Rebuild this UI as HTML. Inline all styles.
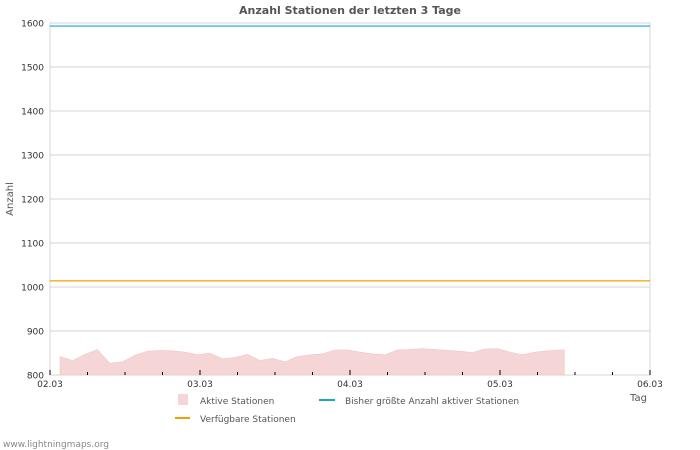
<!DOCTYPE html>
<html><head><meta charset="utf-8"><style>
body{margin:0;background:#fff;}
svg{display:block;font-family:"DejaVu Sans","Liberation Sans",sans-serif;}
</style></head><body>
<svg id="c" width="700" height="450">
<rect width="700" height="450" fill="#fff"/>
<text x="350" y="14" text-anchor="middle" font-size="11" font-weight="bold" fill="#555">Anzahl Stationen der letzten 3 Tage</text>
<g id="grid"></g>
<g id="series"></g>
<g id="axes"></g>
<text transform="translate(13,199) rotate(-90)" text-anchor="middle" font-size="10" fill="#555">Anzahl</text>
<text x="630" y="401" font-size="10" fill="#555">Tag</text>
<g>
<rect x="178" y="394" width="10" height="11" fill="#f5d5d5"/>
<text x="200" y="404" font-size="9" fill="#555">Aktive Stationen</text>
<line x1="319" y1="400" x2="335" y2="400" stroke="#1aa3d0" stroke-width="2"/>
<text x="345" y="404" font-size="9" fill="#555">Bisher größte Anzahl aktiver Stationen</text>
<line x1="175" y1="418" x2="190" y2="418" stroke="#f0a000" stroke-width="2"/>
<text x="200" y="422" font-size="9" fill="#555">Verfügbare Stationen</text>
</g>
<text x="3" y="447" font-size="9" fill="#888">www.lightningmaps.org</text>
</svg>
<script>
const yTicks=[800,900,1000,1100,1200,1300,1400,1500,1600];
const xTickLabels=["02.03","03.03","04.03","05.03","06.03"];
const activeHours=[1.6,3.6,5.6,7.6,9.6,11.6,13.6,15.6,17.6,19.6,21.6,23.6,25.6,27.6,29.6,31.6,33.6,35.6,37.6,39.6,41.6,43.6,45.6,47.6,49.6,51.6,53.6,55.6,57.6,59.6,61.6,63.6,65.6,67.6,69.6,71.6,73.6,75.6,77.6,79.6,81.6,82.3];
const activeValues=[842,833,847,858,827,830,845,854,856,855,852,846,850,837,840,847,833,838,830,842,846,848,857,857,852,848,846,857,858,860,858,856,854,851,859,860,852,846,852,855,857,857];
const maxStations=1593;
const availableStations=1014;
const X0=50,X1=650,Y0=375,Y1=23,H=96;
const sx=h=>X0+(h/H)*(X1-X0);
const sy=v=>Y0-(v-800)/(1600-800)*(Y0-Y1);
const NS="http://www.w3.org/2000/svg";
function mk(t,a,p){const e=document.createElementNS(NS,t);for(const k in a)e.setAttribute(k,a[k]);p.appendChild(e);return e;}
const grid=document.getElementById('grid'),axes=document.getElementById('axes'),ser=document.getElementById('series');
yTicks.forEach(v=>{
 const l=mk('line',{x1:X0,x2:X1,y1:sy(v),y2:sy(v),stroke:'#d4d4d4','stroke-width':1},grid);
 
 
 const t=mk('text',{x:44,y:sy(v)+3.5,'text-anchor':'end','font-size':9,fill:'#333'},axes);
 t.textContent=v;
 
 
});
const fr=mk('rect',{x:X0,y:Y1,width:X1-X0,height:Y0-Y1,fill:'none',stroke:'#d4d4d4'},grid);


let d='M'+sx(activeHours[0])+','+Y0;
activeHours.forEach((h,i)=>{d+=' L'+sx(h)+','+sy(activeValues[i]);});
d+=' L'+sx(activeHours[activeHours.length-1])+','+Y0+' Z';
const ar=mk('path',{d:d,fill:'#f5d5d5',stroke:'#eec4c4','stroke-width':0.5},ser);


const ml=mk('line',{x1:X0,x2:X1,y1:sy(maxStations),y2:sy(maxStations),stroke:'#1aa3d0','stroke-width':1.2},ser);


const al=mk('line',{x1:X0,x2:X1,y1:sy(availableStations),y2:sy(availableStations),stroke:'#f0a000','stroke-width':1.2},ser);


for(let h=0;h<=H;h+=6){
 const major=h%24===0;
 const tk=mk('line',{x1:sx(h),x2:sx(h),y1:Y0-(major?5:3),y2:Y0,stroke:'#000','stroke-width':1},axes);
 
 
}
xTickLabels.forEach((s,i)=>{
 const t=mk('text',{x:sx(i*24),y:Y0+12,'text-anchor':'middle','font-size':9,fill:'#333'},axes);
 t.textContent=s;
 
 
});
</script>
</body></html>
